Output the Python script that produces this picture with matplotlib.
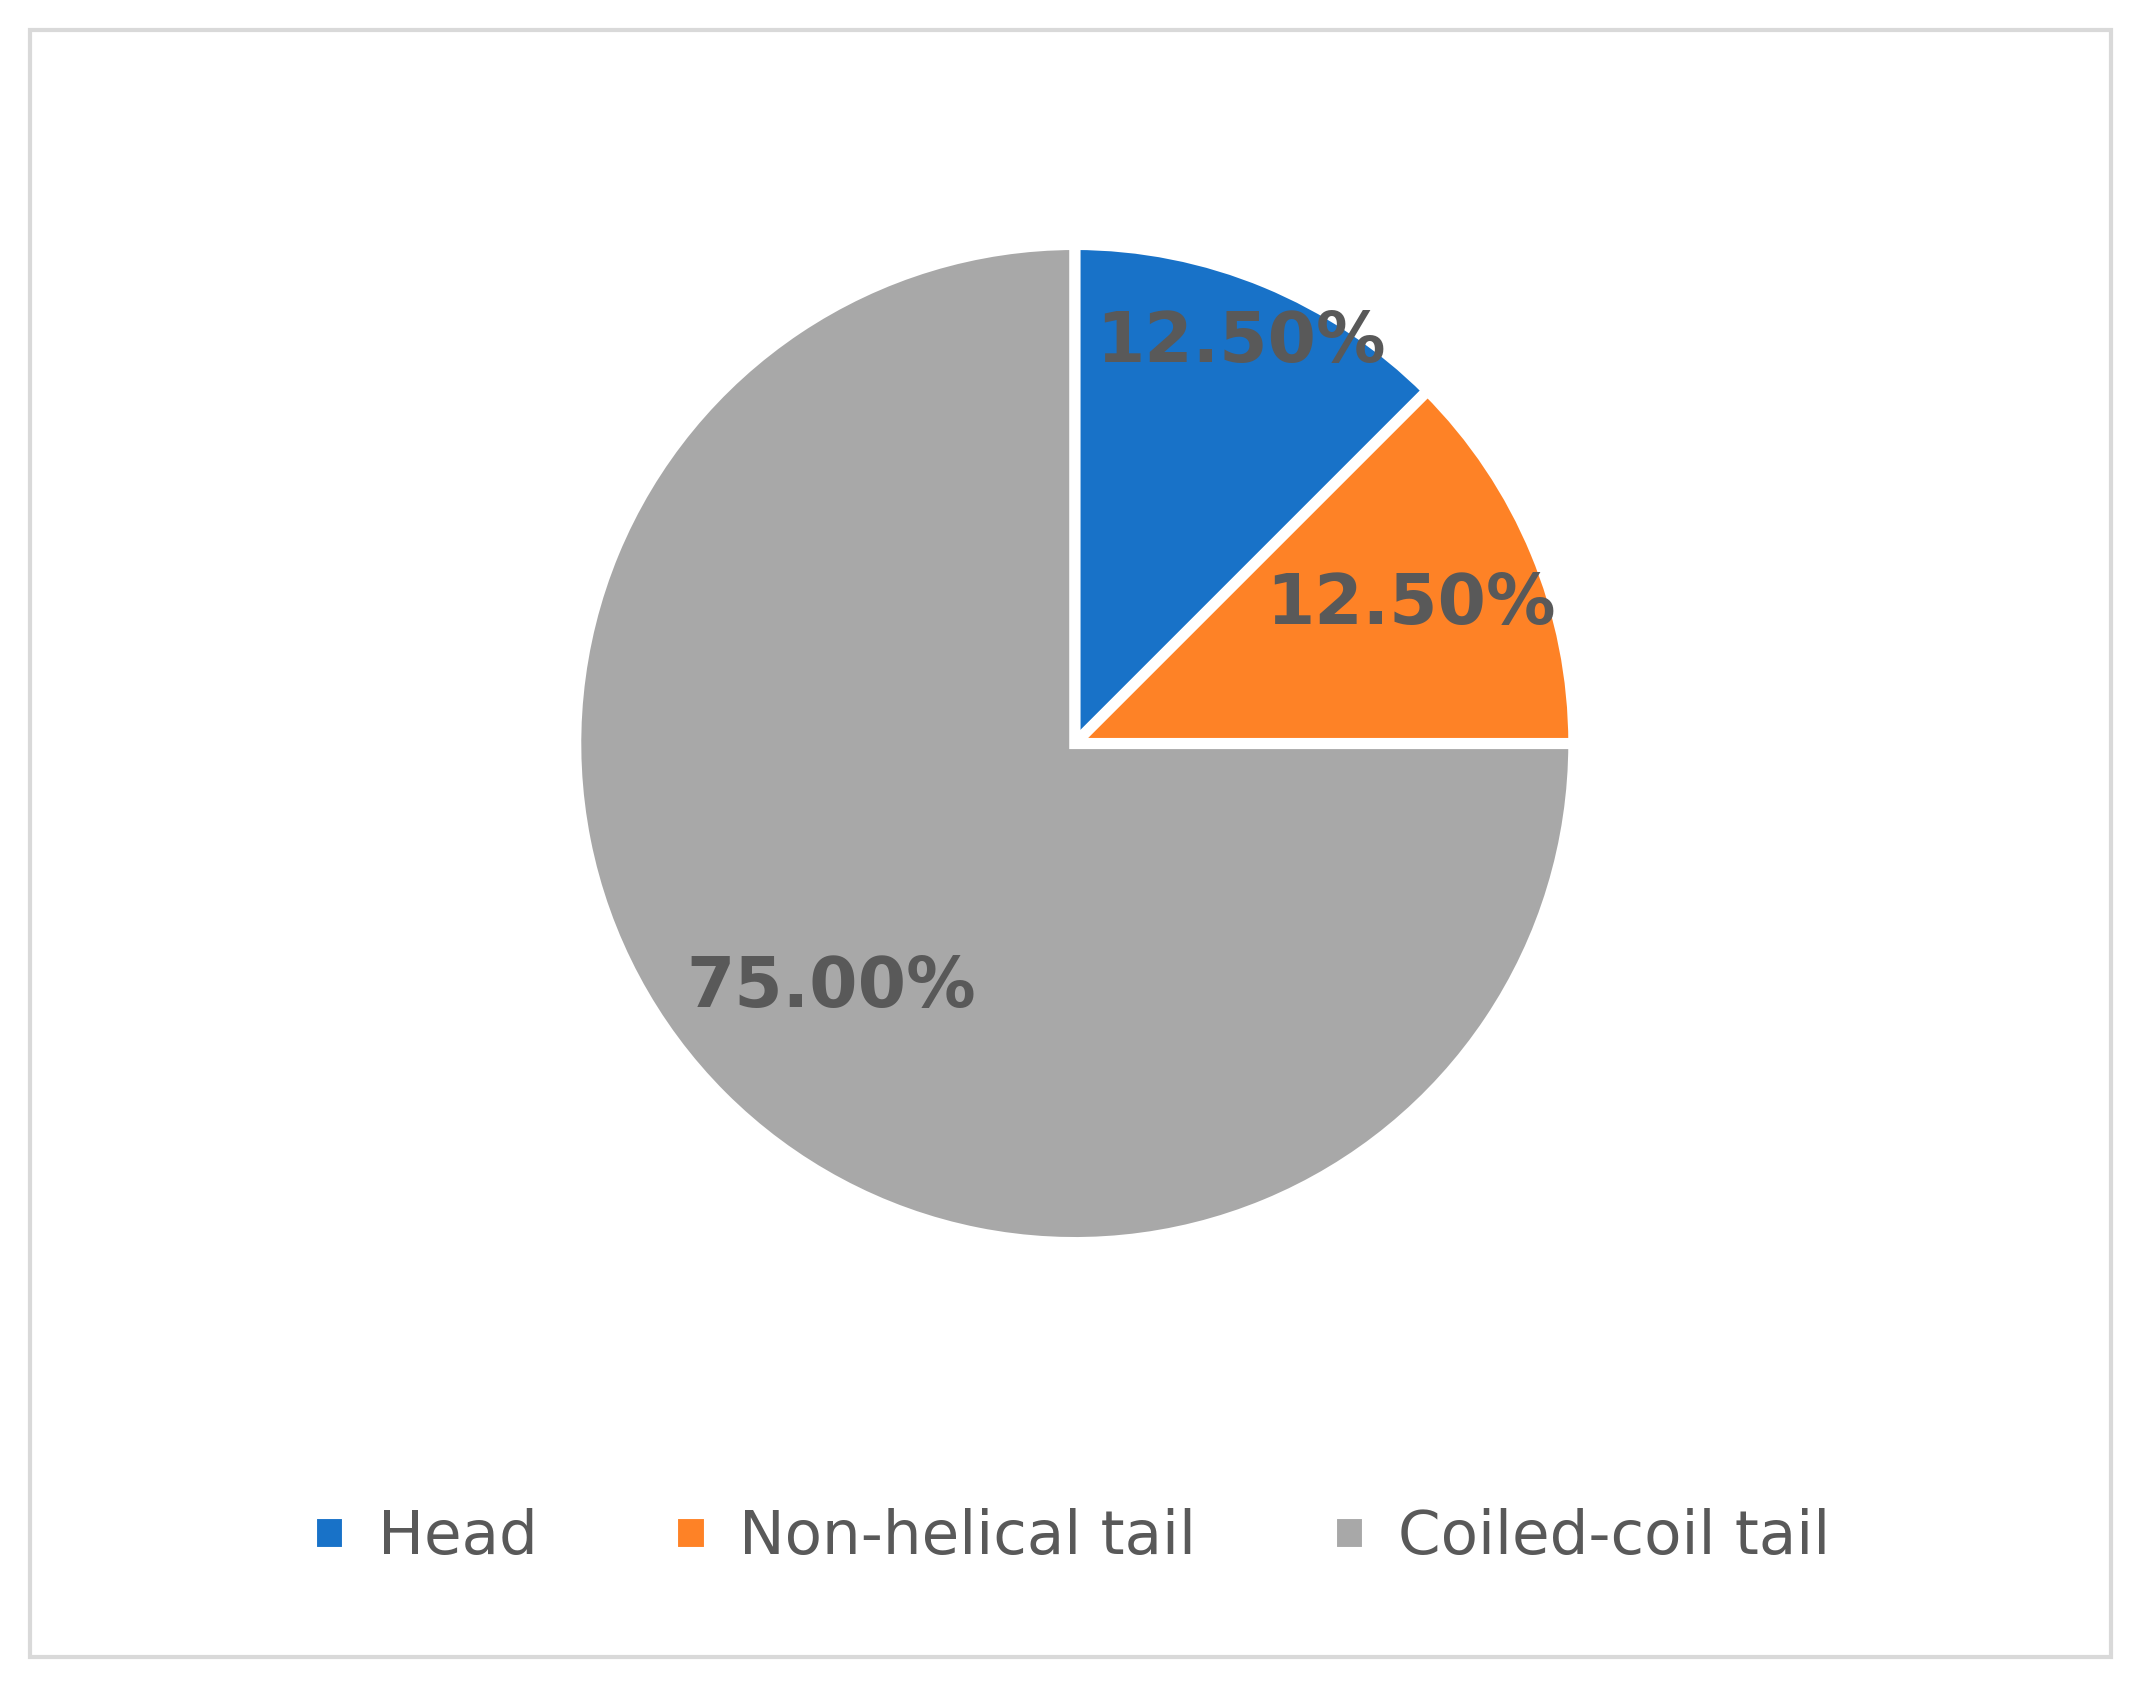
import numpy as np
import matplotlib
matplotlib.use("Agg")
import matplotlib.pyplot as plt
from matplotlib.patches import Rectangle

labels = ["Head", "Non-helical tail", "Coiled-coil tail"]
shares = [12.5, 12.5, 75.0]
colors = ["#1872c8", "#fe8226", "#a8a8a8"]
label_radius = [0.87, 0.73, 0.69]

fig = plt.figure(figsize=(21.41, 16.86), dpi=100)
fig.patches.append(Rectangle((0.014, 0.017), 0.972, 0.965, transform=fig.transFigure,
                             fill=False, edgecolor="#d9d9d9", linewidth=3))

ax = fig.add_axes([0.2105, 0.189, 0.583, 0.740])
wedges, _ = ax.pie(shares, colors=colors, startangle=90, counterclock=False,
                   wedgeprops=dict(edgecolor="white", linewidth=8))
ax.set_aspect("equal")

for w, v, r in zip(wedges, shares, label_radius):
    mid = np.deg2rad((w.theta1 + w.theta2) / 2)
    ax.text(r * np.cos(mid), r * np.sin(mid), f"{v:.2f}%", ha="center", va="center",
            fontsize=50, fontweight="bold", color="#595959")

fig.legend(wedges, labels, loc="center", bbox_to_anchor=(0.5, 0.088), ncol=3,
           frameon=False, fontsize=44, labelcolor="#595959", handlelength=0.6,
           handleheight=0.6, columnspacing=2.2, handletextpad=0.5)

fig.savefig("out.png", dpi=100)
